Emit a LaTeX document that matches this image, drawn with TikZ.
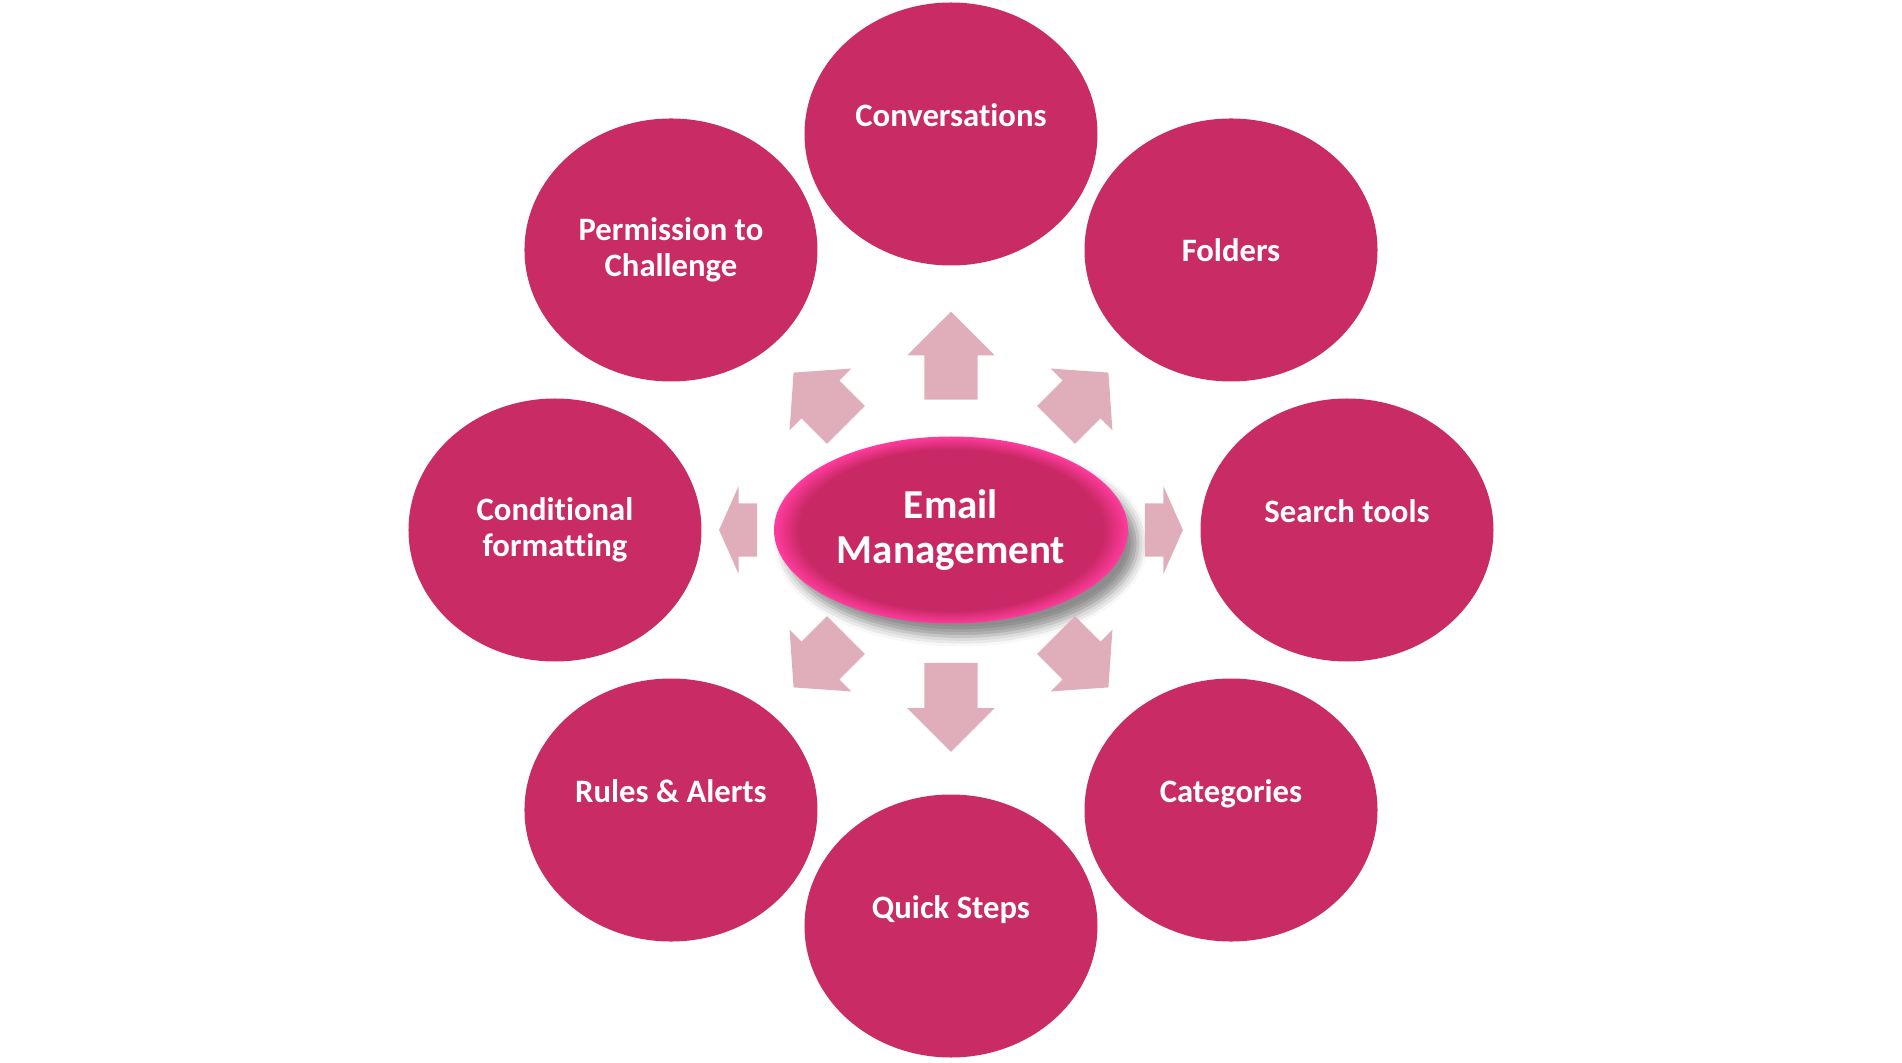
\documentclass[tikz,border=0pt]{standalone}
\usepackage{fontspec}
\setmainfont{Carlito}[Ligatures=NoCommon]
\usepackage{tikz}
\usetikzlibrary{shapes.geometric, shapes.arrows, shadows.blur, calc}
\usepackage{xcolor}
\definecolor{topic-pink}{RGB}{201,44,100}
\definecolor{hub-pink}{RGB}{200,40,100}
\definecolor{hub-glow}{RGB}{255,60,158}
\definecolor{spoke-pink}{RGB}{224,174,187}
\pgfdeclareradialshading{hubglow}{\pgfpoint{0cm}{0cm}}{%
  color(0bp)=(hub-pink); color(21.5bp)=(hub-pink);
  color(25bp)=(hub-glow); color(50bp)=(hub-glow)}

\begin{document}
\begin{tikzpicture}[
  every node/.style = {text=white},
  % Ellipse styles
  topic/.style   = {ellipse, fill=topic-pink, inner sep=0pt,
                    minimum width=2.93cm, minimum height=2.63cm, align=center,
                    font=\fontsize{9.3}{10.4}\selectfont\bfseries},
  topicup/.style = {topic, text height=7pt, text depth=11.2pt},
  hub/.style     = {ellipse, shade, shading=hubglow, inner sep=0pt,
                    minimum width=3.54cm, minimum height=1.87cm, align=center,
                    font=\fontsize{11.7}{13}\selectfont\bfseries,
                    blur shadow={shadow xshift=0.1cm, shadow yshift=-0.13cm,
                                 shadow blur radius=0.1cm, shadow opacity=45}},
  % Arrow style
  spoke/.style   = {single arrow, fill=spoke-pink, inner xsep=0pt, inner ysep=0.26cm,
                    minimum width=0.86cm, single arrow head extend=0.17cm,
                    single arrow head indent=0pt},
]
\useasboundingbox (-9.51,-5.32) rectangle (9.51,5.30);

% ── Nodes ──────────────────────────────────────────────────────────────────────

% Centre
\node[hub] (hub) at (0, 0) {Email\\Management};

% Ring of topics (clockwise from top)
\node[topicup] (conv)   at (90:3.96)   {Conversations};
\node[topic]   (folder) at (45:3.96)   {Folders};
\node[topicup] (search) at (0:3.96)    {Search tools};
\node[topicup] (categ)  at (-45:3.96)  {Categories};
\node[topicup] (quick)  at (-90:3.96)  {Quick Steps};
\node[topicup] (rules)  at (-135:3.96) {Rules \& Alerts};
\node[topic]   (cond)   at (180:3.96)  {Conditional\\formatting};
\node[topic]   (perm)   at (135:3.96)  {Permission to\\Challenge};

% ── Arrows ─────────────────────────────────────────────────────────────────────

% hub -> top / bottom
\node[spoke, minimum height=0.88cm, single arrow tip angle=90, rotate=90]
  (sp-conv) at ($(hub.center)!1.61cm!(conv.center)$) {};
\node[spoke, minimum height=0.89cm, single arrow tip angle=90, rotate=-90]
  (sp-quick) at ($(hub.center)!1.64cm!(quick.center)$) {};

% hub -> left / right
\node[spoke, minimum height=0.38cm, single arrow tip angle=132, rotate=0]
  (sp-search) at ($(hub.center)!2.07cm!(search.center)$) {};
\node[spoke, minimum height=0.38cm, single arrow tip angle=132, rotate=180]
  (sp-cond) at ($(hub.center)!2.07cm!(cond.center)$) {};

% hub -> diagonals
\node[spoke, minimum height=0.74cm, single arrow tip angle=98, rotate=45]
  (sp-folder) at ($(hub.center)!1.74cm!(folder.center)$) {};
\node[spoke, minimum height=0.74cm, single arrow tip angle=98, rotate=-45]
  (sp-categ) at ($(hub.center)!1.74cm!(categ.center)$) {};
\node[spoke, minimum height=0.74cm, single arrow tip angle=98, rotate=-135]
  (sp-rules) at ($(hub.center)!1.74cm!(rules.center)$) {};
\node[spoke, minimum height=0.74cm, single arrow tip angle=98, rotate=135]
  (sp-perm) at ($(hub.center)!1.74cm!(perm.center)$) {};

\end{tikzpicture}
\end{document}
